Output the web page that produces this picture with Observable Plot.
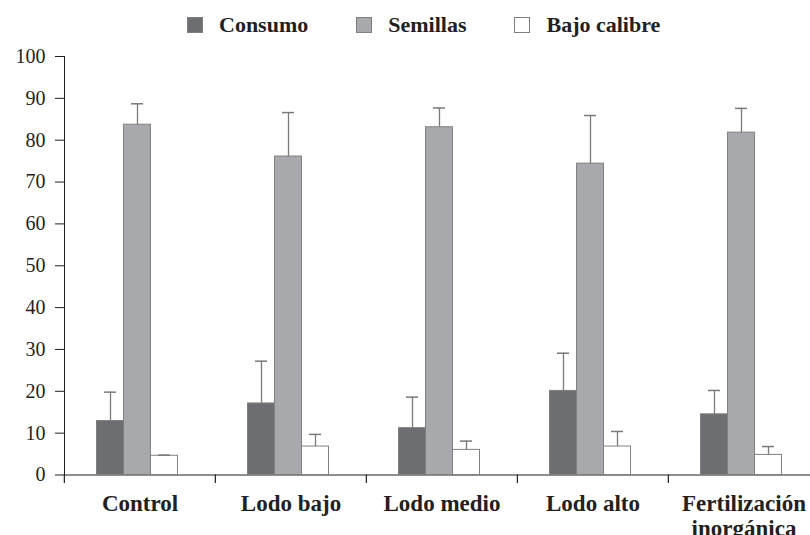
<!DOCTYPE html>
<html>
<head>
<meta charset="utf-8">
<script src="https://cdn.jsdelivr.net/npm/d3@7"></script>
<script src="https://cdn.jsdelivr.net/npm/@observablehq/plot@0.6"></script>
<style>
  html, body { margin: 0; padding: 0; background: #ffffff; overflow: hidden; }
  #wrap { width: 810px; height: 535px; position: relative; overflow: hidden; }
  #legend { height: 40px; display: flex; align-items: center; padding-left: 187px; box-sizing: border-box;
            font: bold 22px "Liberation Serif", "Times New Roman", serif; color: #231f20; padding-top: 9px; }
  .item { display: flex; align-items: center; margin-right: 48px; }
  .sw { width: 14px; height: 14px; border: 1px solid #7f7f7f; margin-right: 16px; }
</style>
</head>
<body>
<div id="wrap">
  <div id="legend"></div>
  <div id="chart"></div>
</div>
<script>
const categories = ["Control", "Lodo bajo", "Lodo medio", "Lodo alto", "Fertilización\ninorgánica"];
const series = ["Consumo", "Semillas", "Bajo calibre"];
const consumo = [12.9, 17.1, 11.2, 20.1, 14.5];
const consumoSD = [6.9, 10.1, 7.4, 9.0, 5.7];
const semillas = [83.7, 76.1, 83.1, 74.4, 81.8];
const semillasSD = [5.0, 10.5, 4.6, 11.5, 5.8];
const bajoCalibre = [4.6, 6.8, 6.0, 6.8, 4.8];
const bajoCalibreSD = [0.15, 2.9, 2.1, 3.6, 2.0];
const yTicks = [0, 10, 20, 30, 40, 50, 60, 70, 80, 90, 100];
const colors = ["#6d6e71", "#a7a9ac", "#ffffff"];

const values = [consumo, semillas, bajoCalibre];
const sds = [consumoSD, semillasSD, bajoCalibreSD];
const table = [];
categories.forEach((c, i) => {
  series.forEach((s, j) => {
    table.push({category: c, series: s, value: values[j][i], hi: values[j][i] + sds[j][i]});
  });
});

// legend
const legend = document.getElementById("legend");
series.forEach((s, j) => {
  const item = document.createElement("div");
  item.className = "item";
  const sw = document.createElement("div");
  sw.className = "sw";
  sw.style.background = colors[j];
  const t = document.createElement("span");
  t.textContent = s;
  item.appendChild(sw);
  item.appendChild(t);
  legend.appendChild(item);
});

const H = 495, MT = 16, MB = 60.5;
const frameH = H - MT - MB;
const fxRange = [63.5, 820];
const bw = (fxRange[1] - fxRange[0]) / categories.length;
const ink = "#231f20";
const errInk = "#7a7a7a";

const chart = Plot.plot({
  width: 810,
  height: H,
  marginTop: MT,
  marginBottom: MB,
  marginLeft: 61.5,
  marginRight: 0,
  style: {fontFamily: "'Liberation Serif', 'Times New Roman', serif", fontSize: "20px", color: ink, background: "#ffffff", overflow: "hidden"},
  facet: {data: table, x: "category"},
  fx: {domain: categories, padding: 0, range: fxRange, axis: null},
  x: {domain: series, paddingInner: 0, paddingOuter: 1.27, align: 0.47, axis: null},
  y: {domain: [0, 100], ticks: yTicks, tickSize: 9, tickPadding: 10, line: true, label: null},
  color: {domain: series, range: colors},
  marks: [
    Plot.ruleY([0], {stroke: ink, strokeWidth: 1.2}),
    Plot.ruleX([0], {x: null, dx: -bw / 2, insetTop: frameH, insetBottom: -8.5, stroke: ink, strokeWidth: 1.2}),
    Plot.barY(table, {x: "series", y: "value", fill: "series", stroke: "#808080", strokeWidth: 1}),
    Plot.ruleX(table, {x: "series", y1: "value", y2: "hi", stroke: errInk, strokeWidth: 1.3}),
    Plot.tickY(table, {x: "series", y: "hi", insetLeft: 7.5, insetRight: 7.5, stroke: errInk, strokeWidth: 1.5}),
    Plot.text(table, Plot.selectFirst({text: "category", frameAnchor: "bottom", lineAnchor: "top", dy: 18.5,
      fontWeight: "bold", fontSize: 23, fill: ink, lineHeight: 1.08}))
  ]
});
document.getElementById("chart").appendChild(chart);
</script>
</body>
</html>
